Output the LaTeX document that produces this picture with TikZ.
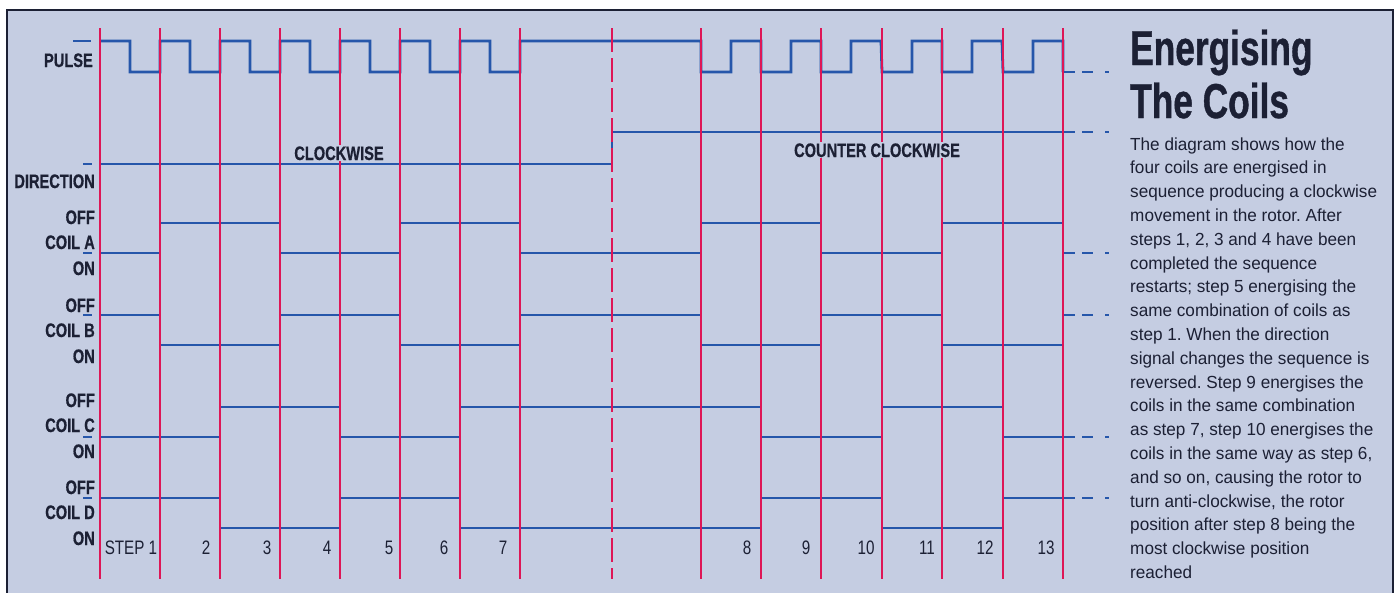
\documentclass[tikz,border=0pt]{standalone}
\usepackage{fontspec}
\usepackage{tikz}
\setmainfont{Liberation Sans}
\newfontfamily\condfont[FakeStretch=0.75, BoldFeatures={FakeBold=0.6}]{Liberation Sans}
\newfontfamily\headfont[FakeStretch=0.72, BoldFeatures={FakeBold=0.8}]{Liberation Sans}
\newfontfamily\stepfont[FakeStretch=0.78]{Liberation Sans}
\newfontfamily\bodyfont[FakeStretch=0.98]{Liberation Sans}
\usetikzlibrary{calc}
\definecolor{paper}{RGB}{197,205,226}
\definecolor{ink}{RGB}{28,32,52}
\definecolor{sigblue}{RGB}{38,86,170}
\definecolor{stepred}{RGB}{222,22,86}
\tikzstyle{sig}      = [draw=sigblue, line width=2.8pt]
\tikzstyle{tail}     = [sig, dash pattern=on 12pt off 7pt on 11pt off 12pt on 4pt]
\tikzstyle{stepline} = [draw=stepred, line width=1.4pt]
\tikzstyle{lbl}      = [text=ink, inner sep=0pt, anchor=base east,
                        font=\condfont\bfseries\fontsize{19.5}{22}\selectfont]

\begin{document}
\frenchspacing
\begin{tikzpicture}[x=1pt, y=-1pt,
		steplbl/.style={text=ink, inner sep=0pt, anchor=base,
				font=\stepfont\fontsize{19.5}{22}\selectfont},
		headlbl/.style={text=ink, inner sep=0pt, anchor=base west,
				font=\headfont\bfseries\fontsize{49}{53}\selectfont},
		body/.style={text=ink, inner sep=0pt, anchor=base west,
				font=\bodyfont\fontsize{17.5}{23.8}\selectfont}]
	\useasboundingbox (0,0) rectangle (1399,592);
	\fill[white] (0,0) rectangle (1399,592);
	\draw[fill=paper, draw=ink, line width=1.6pt] (7,10) rectangle (1393,610);

	% waveforms
	\draw[sig] (100,41)
		\foreach \x in {100,160,...,460} {-- (\x,41) -- (\x+30,41) -- (\x+30,72) -- (\x+60,72) -- (\x+60,41)}
		-- (701,41)
		\foreach \x in {701,761,821,882,942,1003} {-- (\x,72) -- (\x+30,72) -- (\x+30,41) -- (\x+60,41)}
		-- (1063,72);
	\draw[sig] (100,164) -- (612,164) -- (612,132) -- (1063,132);
	\draw[sig] (100,253) -- (160,253) -- (160,223) -- (280,223) -- (280,253) -- (400,253) -- (400,223)
		-- (520,223) -- (520,253) -- (701,253) -- (701,223) -- (821,223) -- (821,253) -- (942,253)
		-- (942,223) -- (1063,223) -- (1063,253);
	\draw[sig] (100,315) -- (160,315) -- (160,345) -- (280,345) -- (280,315) -- (400,315) -- (400,345)
		-- (520,345) -- (520,315) -- (701,315) -- (701,345) -- (821,345) -- (821,315) -- (942,315)
		-- (942,345) -- (1063,345) -- (1063,315);
	\draw[sig] (100,437) -- (220,437) -- (220,407) -- (340,407) -- (340,437) -- (460,437) -- (460,407)
		-- (761,407) -- (761,437) -- (882,437) -- (882,407) -- (1003,407) -- (1003,437) -- (1063,437);
	\draw[sig] (100,498) -- (220,498) -- (220,528) -- (340,528) -- (340,498) -- (460,498) -- (460,528)
		-- (761,528) -- (761,498) -- (882,498) -- (882,528) -- (1003,528) -- (1003,498) -- (1063,498);
	\foreach \y in {72,132,253,315,437,498}
		\draw[tail] (1063,\y) -- (1110,\y);

	% level marks
	\draw[sig] (73,41) -- (91,41);
	\foreach \y in {164,253,315,437,498}
		\draw[sig] (83,\y) -- (92,\y);

	% step lines
	\foreach \x in {100,160,...,520,701,761,821,882,942,1003,1063}
		\draw[stepline] (\x,28) -- (\x,579);
	\draw[stepline, dash pattern=on 24pt off 6pt] (612,28) -- (612,579);

	% signal names
	\node[lbl] (pulse) at (93,67) {PULSE};
	\node[lbl] (direction) at (95,188) {DIRECTION};
	\foreach \c/\y in {A/249,B/337,C/432,D/519} {
		\node[lbl] (coil\c) at (95,\y) {COIL \c};
		\node[lbl] (off\c) at (95,\y-25) {OFF};
		\node[lbl] (on\c) at (95,\y+26) {ON};
	}
	\node[lbl, anchor=base, fill=paper, inner sep=1pt] (cw) at (339,160) {CLOCKWISE};
	\node[lbl, anchor=base, fill=paper, inner sep=1pt] (ccw) at (877,157) {COUNTER CLOCKWISE};

	% step numbers
	\node[steplbl] (step1) at (131,554) {STEP 1};
	\foreach \n/\x in {2/206,3/267,4/327,5/389,6/444,7/503,8/747,9/806,10/866,11/927,12/985,13/1046}
		\node[steplbl] (step\n) at (\x,554) {\n};

	% caption
	\node[headlbl] (head1) at (1130,65) {Energising};
	\node[headlbl] (head2) at (1130,118) {The Coils};
	\foreach \t [count=\i from 0] in {{The diagram shows how the},{four coils are energised in},
			{sequence producing a clockwise},{movement in the rotor. After},
			{steps 1, 2, 3 and 4 have been},{completed the sequence},
			{restarts; step 5 energising the},{same combination of coils as},
			{step 1. When the direction},{signal changes the sequence is},
			{reversed. Step 9 energises the},{coils in the same combination},
			{as step 7, step 10 energises the},{coils in the same way as step 6,},
			{and so on, causing the rotor to},{turn anti-clockwise, the rotor},
			{position after step 8 being the},{most clockwise position},{reached}}
		\node[body] (body\i) at (1130,150+23.8*\i) {\t};
\end{tikzpicture}
\end{document}
